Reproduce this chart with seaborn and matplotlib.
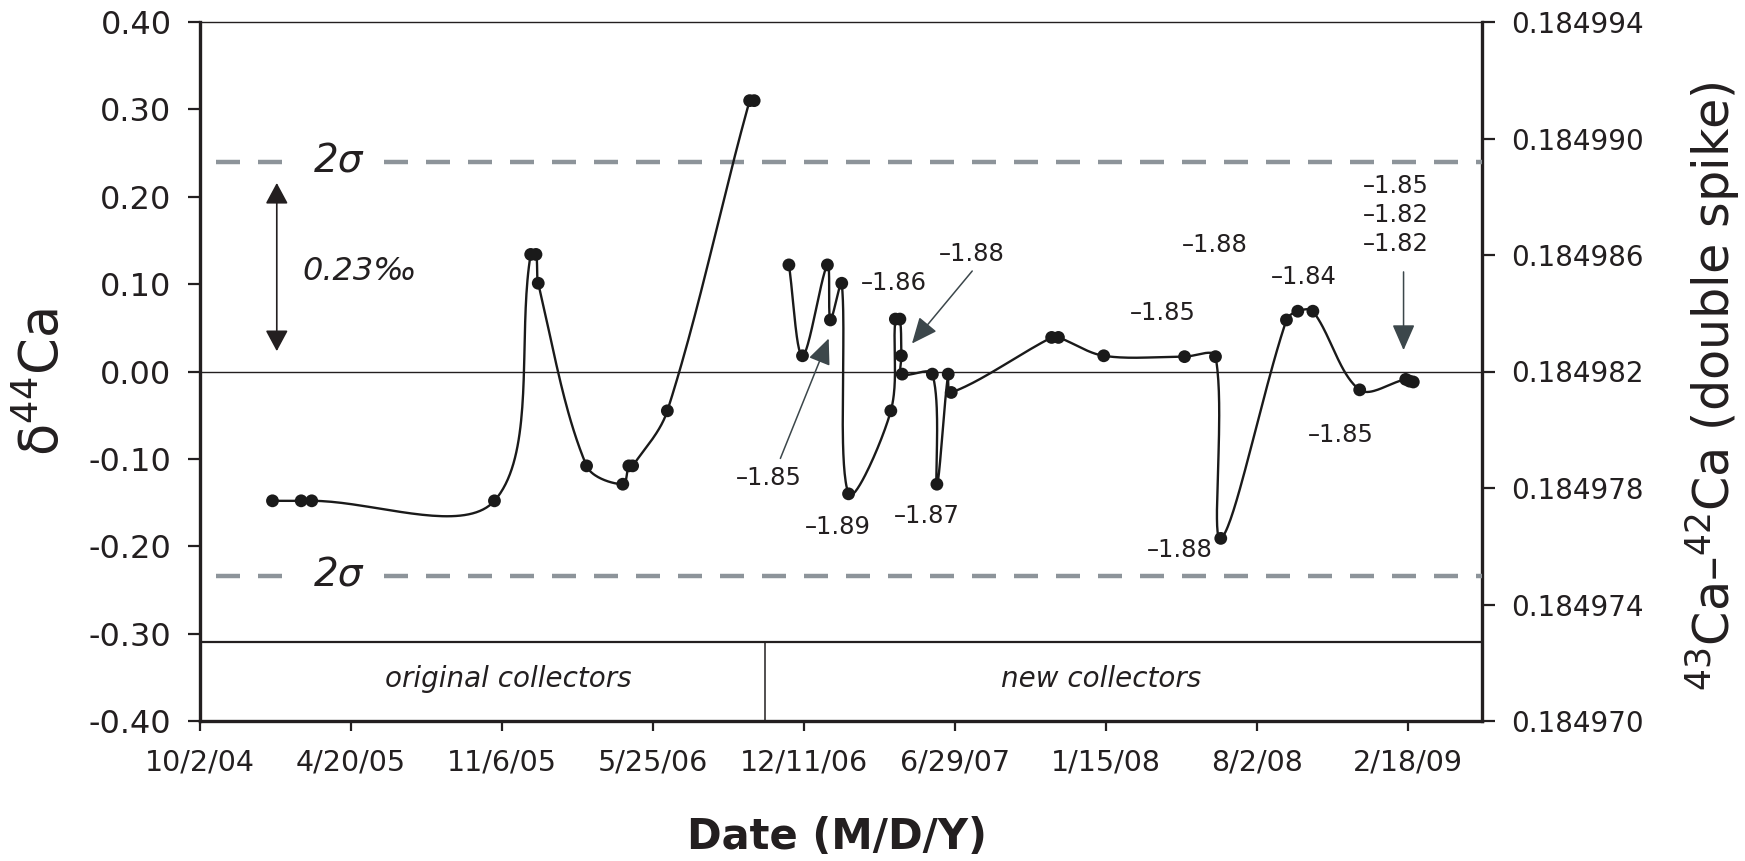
import numpy as np
import pandas as pd
import matplotlib
matplotlib.use("Agg")
import matplotlib.pyplot as plt
import matplotlib.dates as mdates
from matplotlib.ticker import FixedLocator, FuncFormatter
import seaborn as sns

# ---------------- data ----------------
orig_dates = ["2005-01-06", "2005-02-13", "2005-02-27", "2005-10-27", "2005-12-14",
              "2005-12-21", "2005-12-24", "2006-02-26", "2006-04-15", "2006-04-23",
              "2006-04-28", "2006-06-13", "2006-09-30", "2006-10-06"]
orig_d44 = [-0.148, -0.148, -0.148, -0.148, 0.134, 0.134, 0.101, -0.108, -0.129,
            -0.108, -0.108, -0.045, 0.310, 0.310]

new_dates = ["2006-11-21", "2006-12-09", "2007-01-11", "2007-01-15", "2007-01-30",
             "2007-02-08", "2007-04-05", "2007-04-11", "2007-04-17", "2007-04-19",
             "2007-04-20", "2007-05-30", "2007-06-05", "2007-06-20", "2007-06-24",
             "2007-11-04", "2007-11-13", "2008-01-12", "2008-04-28", "2008-06-08",
             "2008-06-15", "2008-09-10", "2008-09-25", "2008-10-15", "2008-12-16",
             "2009-02-15", "2009-02-20", "2009-02-25"]
new_d44 = [0.122, 0.018, 0.122, 0.059, 0.101, -0.140, -0.045, 0.060, 0.060, 0.018,
           -0.003, -0.003, -0.129, -0.003, -0.024, 0.039, 0.039, 0.018, 0.017, 0.017,
           -0.191, 0.059, 0.069, 0.069, -0.021, -0.009, -0.011, -0.012]

xtick_dates = ["2004-10-02", "2005-04-20", "2005-11-06", "2006-05-25", "2006-12-11",
               "2007-06-29", "2008-01-15", "2008-08-02", "2009-02-18"]
xtick_labels = ["10/2/04", "4/20/05", "11/6/05", "5/25/06", "12/11/06",
                "6/29/07", "1/15/08", "8/2/08", "2/18/09"]
yticks_left = [-0.40, -0.30, -0.20, -0.10, 0.00, 0.10, 0.20, 0.30, 0.40]
ratio_ticks = [0.184970, 0.184974, 0.184978, 0.184982, 0.184986, 0.184990, 0.184994]
ratio_zero = 0.184982        # ratio corresponding to delta = 0
ratio_per_delta = 0.00003    # ratio change per 1 permil delta
two_sigma = [0.240, -0.234]
collector_change = "2006-10-21"
box_top = -0.31

# ---------------- style ----------------
sns.set_theme(style="ticks")
plt.rcParams["font.family"] = ["DejaVu Sans"]
plt.rcParams["axes.unicode_minus"] = False
plt.rcParams["mathtext.fontset"] = "dejavusans"
TXT = "#231f20"

fig = plt.figure(figsize=(17.45, 8.61), dpi=100)
ax = fig.add_axes([200 / 1745, 1 - 721 / 861, 1282 / 1745, 699 / 861])

x0 = pd.Timestamp("2004-10-02")
def D(days):
    return mdates.date2num(x0 + pd.Timedelta(days=days))

ax.set_xlim(mdates.date2num(pd.Timestamp("2004-10-02")),
            mdates.date2num(pd.Timestamp("2009-05-27")))
ax.set_ylim(-0.40, 0.40)

xo = mdates.date2num(pd.to_datetime(orig_dates))
xn = mdates.date2num(pd.to_datetime(new_dates))


def excel_smooth(ax, x, y, n=40):
    """Smoothed connecting line (Bezier, length-weighted Catmull-Rom tangents)."""
    pts = ax.transData.transform(np.column_stack([x, y]))
    m = len(pts)
    out = []
    t = np.linspace(0, 1, n)[:, None]
    for i in range(m - 1):
        p0 = pts[i - 1] if i > 0 else pts[i]
        p1, p2 = pts[i], pts[i + 1]
        p3 = pts[i + 2] if i + 2 < m else pts[i + 1]
        d01 = np.linalg.norm(p1 - p0)
        d12 = np.linalg.norm(p2 - p1)
        d23 = np.linalg.norm(p3 - p2)
        f1 = d12 / (d01 + d12) / 3.0 if (d01 + d12) > 0 else 0.0
        f2 = d12 / (d12 + d23) / 3.0 if (d12 + d23) > 0 else 0.0
        c1 = p1 + (p2 - p0) * f1
        c2 = p2 - (p3 - p1) * f2
        seg = ((1 - t) ** 3) * p1 + 3 * ((1 - t) ** 2) * t * c1 + 3 * (1 - t) * t ** 2 * c2 + t ** 3 * p2
        out.append(seg if i == 0 else seg[1:])
    d = ax.transData.inverted().transform(np.vstack(out))
    return d[:, 0], d[:, 1]


# reference lines
ax.axhline(0, color=TXT, lw=1.0, zorder=1)
for lvl in two_sigma:
    ax.axhline(lvl, color="#8d949a", lw=3.2, linestyle=(5.85, (5.4, 4.05)), zorder=1)

# collector boxes
ax.axhline(box_top, color=TXT, lw=1.6, zorder=2)
xc = mdates.date2num(pd.Timestamp(collector_change))
ax.plot([xc, xc], [-0.40, box_top], color=TXT, lw=1.1, zorder=2)
ax.text(D(408), -0.352, "original collectors", style="italic", fontsize=20,
        ha="center", va="center", color=TXT)
ax.text(D(1194), -0.352, "new collectors", style="italic", fontsize=20,
        ha="center", va="center", color=TXT)

# series
for xs, ys in [(xo, orig_d44), (xn, new_d44)]:
    sx, sy = excel_smooth(ax, xs, ys)
    sns.lineplot(x=sx, y=sy, sort=False, estimator=None, ax=ax,
                 color="#1a1a1a", lw=1.7, zorder=3)
    sns.scatterplot(x=xs, y=ys, ax=ax, s=85, color="#1a1a1a",
                    edgecolor="none", zorder=4, legend=False)

# 2 sigma labels
for lvl in two_sigma:
    ax.text(D(183), lvl, "2σ", fontsize=28, style="italic", ha="center", va="center",
            color=TXT, zorder=5,
            bbox=dict(boxstyle="square,pad=0.45", fc="white", ec="none"))

# double arrow + 0.23 permil
ax.annotate("", xy=(D(101.7), 0.2158), xytext=(D(101.7), 0.0233),
            arrowprops=dict(arrowstyle="<|-|>,head_length=0.65,head_width=0.35",
                            mutation_scale=20, lw=1.2, color=TXT,
                            shrinkA=0, shrinkB=0))
ax.text(D(135), 0.115, "0.23‰", style="italic", fontsize=23, ha="left",
        va="center", color=TXT)

# value annotations
labels = [
    ("–1.86", 918.5, 0.101),
    ("–1.88", 1022.8, 0.134),
    ("–1.85", 753, -0.122),
    ("–1.89", 845.2, -0.178),
    ("–1.87", 963.2, -0.1656),
    ("–1.85", 1274.6, 0.0664),
    ("–1.88", 1297.6, -0.2045),
    ("–1.88", 1344.4, 0.1445),
    ("–1.84", 1462.3, 0.108),
    ("–1.85", 1511, -0.0729),
    ("–1.85\n–1.82\n–1.82", 1583.9, 0.179),
]
for txt, dd, v in labels:
    ax.text(D(dd), v, txt, fontsize=17.5, ha="center", va="center", color=TXT,
            linespacing=1.25)

arrow_kw = dict(arrowstyle="-|>,head_length=0.8,head_width=0.35", mutation_scale=20,
                lw=1.1, color="#3c474b", shrinkA=0, shrinkB=0)
for (d1, v1), (d2, v2) in [((768.7, -0.0995), (832.7, 0.0378)),
                           ((1022.8, 0.115), (943.0, 0.032)),
                           ((1594.1, 0.114), (1594.1, 0.0244))]:
    ax.annotate("", xy=(D(d2), v2), xytext=(D(d1), v1), arrowprops=arrow_kw)

# axes formatting
ax.xaxis.set_major_locator(FixedLocator(mdates.date2num(pd.to_datetime(xtick_dates))))
ax.set_xticklabels(xtick_labels)
ax.set_yticks(yticks_left)
ax.yaxis.set_major_formatter(FuncFormatter(lambda v, p: f"{v:.2f}"))
ax.tick_params(axis="y", direction="out", length=8.5, width=1.6, labelsize=23,
               pad=12, color=TXT, labelcolor=TXT)
ax.tick_params(axis="x", direction="out", length=7.5, width=1.6, labelsize=20.5,
               pad=12, color=TXT, labelcolor=TXT)
ax.spines["right"].set_visible(False)
ax.spines["top"].set_linewidth(1.0)
ax.spines["left"].set_linewidth(2.4)
ax.spines["bottom"].set_linewidth(2.4)
for s in ["top", "left", "bottom"]:
    ax.spines[s].set_color(TXT)
ax.grid(False)

sec = ax.secondary_yaxis("right", functions=(lambda d: ratio_zero + d * ratio_per_delta,
                                              lambda r: (r - ratio_zero) / ratio_per_delta))
sec.set_yticks(ratio_ticks)
sec.yaxis.set_major_formatter(FuncFormatter(lambda v, p: f"{v:.6f}"))
sec.tick_params(axis="y", direction="out", length=9, width=1.6, labelsize=20,
                pad=12, color=TXT, labelcolor=TXT)
sec.spines["right"].set_linewidth(2.4)
sec.spines["right"].set_color(TXT)

ax.set_xlabel("Date (M/D/Y)", fontsize=30, fontweight="bold", color=TXT, va="center")
ax.xaxis.set_label_coords(0.497, -0.166)
ax.set_ylabel("δ$^{44}$Ca", fontsize=38, color=TXT, va="center")
ax.yaxis.set_label_coords(-0.1225, 0.485)
fig.text(1712 / 1745, 1 - 386.5 / 861, "$^{43}$Ca–$^{42}$Ca (double spike)",
         fontsize=35.5, color=TXT, rotation=90, ha="center", va="center")

fig.savefig("out.png", dpi=100, facecolor="white")
